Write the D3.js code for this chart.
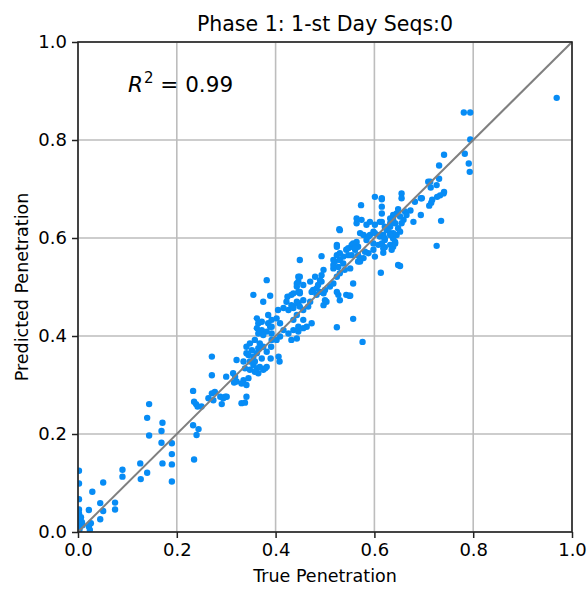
<!DOCTYPE html>
<html><head><meta charset="utf-8">
<script src="https://cdn.jsdelivr.net/npm/d3@7"></script>
<style>
body{margin:0;background:#fff}
svg{display:block}
text{font-family:"DejaVu Sans",sans-serif;fill:#000}
</style>
</head><body>
<svg id="chart" width="587" height="590"></svg>
<script>
const titleText = "Phase 1: 1-st Day Seqs:0";
const xLabelText = "True Penetration";
const yLabelText = "Predicted Penetration";
const r2Text = "0.99";
const xTicks = [0, 0.2, 0.4, 0.6, 0.8, 1.0];
const yTicks = [0, 0.2, 0.4, 0.6, 0.8, 1.0];
const identityLine = [[0, 0], [1, 1]];

// [true penetration, predicted penetration]
const samples = [
 [0.002,0.125],[0.002,0.099],[0.002,0.067],[0.002,0.046],[0.002,0.038],[0.002,0.031],[0.004,0.024],[0.002,0.018],[0.002,0.011],[0.005,0.024],[0.009,0.014],[0.003,0.005],[0.006,0.030],[0.008,0.020],
 [0.022,0.011],[0.024,0.004],[0.022,0.045],[0.029,0.082],[0.045,0.026],[0.051,0.043],[0.045,0.059],[0.051,0.101],[0.075,0.060],[0.075,0.046],[0.090,0.127],[0.090,0.113],[0.126,0.140],[0.127,0.108],[0.140,0.121],[0.026,0.018],
 [0.144,0.261],[0.140,0.233],[0.171,0.223],[0.169,0.206],[0.144,0.197],[0.169,0.182],[0.190,0.181],[0.190,0.159],[0.190,0.138],[0.171,0.140],[0.190,0.103],
 [0.233,0.288],[0.235,0.266],[0.239,0.261],[0.242,0.256],[0.233,0.218],[0.244,0.210],[0.240,0.198],[0.235,0.148],[0.250,0.256],
 [0.264,0.273],[0.271,0.283],[0.277,0.286],[0.274,0.269],[0.294,0.273],[0.301,0.276],[0.291,0.261],[0.271,0.358],[0.271,0.320],[0.300,0.317],[0.288,0.276],[0.298,0.276],
 [0.316,0.305],[0.335,0.310],[0.341,0.300],[0.331,0.263],[0.338,0.264],[0.314,0.324],[0.321,0.307],[0.318,0.317],[0.321,0.351],[0.331,0.303],[0.341,0.276],[0.335,0.348],[0.348,0.348],[0.341,0.365],[0.348,0.331],[0.338,0.334],[0.341,0.378],[0.345,0.361],[0.348,0.385],[0.345,0.314],
 [0.355,0.484],[0.389,0.482],[0.375,0.470],[0.382,0.514],[0.385,0.443],[0.392,0.433],[0.385,0.426],[0.389,0.419],[0.362,0.436],[0.365,0.426],[0.372,0.429],[0.362,0.416],[0.372,0.412],[0.382,0.409],[0.392,0.405],[0.375,0.402],[0.365,0.405],[0.358,0.392],[0.368,0.385],[0.375,0.378],[0.365,0.375],[0.352,0.371],[0.382,0.368],[0.362,0.365],[0.355,0.358],[0.372,0.354],[0.391,0.378],[0.390,0.354],[0.355,0.341],[0.362,0.334],[0.368,0.337],[0.382,0.337],[0.375,0.331],[0.365,0.324],[0.392,0.392],[0.358,0.348],[0.358,0.327],[0.379,0.334],[0.392,0.419],
 [0.424,0.480],[0.432,0.484],[0.449,0.487],[0.446,0.467],[0.436,0.460],[0.426,0.453],[0.416,0.457],[0.405,0.453],[0.402,0.436],[0.409,0.426],[0.416,0.412],[0.426,0.405],[0.436,0.412],[0.446,0.409],[0.443,0.395],[0.432,0.392],[0.402,0.392],[0.409,0.399],[0.406,0.358],[0.408,0.348],[0.422,0.470],[0.432,0.463],[0.446,0.521],[0.443,0.507],[0.446,0.490],[0.443,0.501],[0.446,0.511],[0.449,0.555],[0.436,0.487],[0.436,0.457],[0.443,0.470],[0.443,0.443],[0.436,0.433],[0.446,0.419],[0.449,0.460],
 [0.456,0.473],[0.456,0.504],[0.449,0.490],[0.449,0.521],[0.456,0.453],[0.456,0.433],[0.463,0.419],[0.473,0.426],[0.466,0.460],[0.470,0.470],[0.476,0.494],[0.483,0.484],[0.490,0.490],[0.470,0.511],[0.480,0.521],[0.493,0.511],[0.483,0.497],[0.497,0.487],[0.473,0.490],[0.493,0.563],[0.497,0.535],[0.493,0.524],[0.490,0.514],[0.486,0.504],[0.497,0.463],[0.456,0.416],
 [0.500,0.494],[0.510,0.501],[0.517,0.507],[0.500,0.473],[0.503,0.470],[0.527,0.484],[0.530,0.473],[0.524,0.490],[0.543,0.484],[0.549,0.482],[0.551,0.538],[0.524,0.565],[0.530,0.555],[0.520,0.552],[0.537,0.548],[0.527,0.541],[0.540,0.535],[0.517,0.538],[0.524,0.521],[0.530,0.528],[0.517,0.545],[0.517,0.555],[0.529,0.618],[0.524,0.586],[0.524,0.582],[0.530,0.569],[0.537,0.562],[0.543,0.576],[0.547,0.565],[0.547,0.579],[0.554,0.582],[0.554,0.586],[0.554,0.565],[0.524,0.418],[0.530,0.616],
 [0.557,0.507],[0.557,0.435],[0.576,0.388],[0.551,0.482],[0.557,0.589],[0.564,0.592],[0.561,0.576],[0.567,0.582],[0.561,0.579],[0.567,0.565],[0.571,0.552],[0.578,0.559],[0.588,0.569],[0.598,0.576],[0.601,0.562],[0.581,0.572],[0.571,0.559],[0.567,0.552],[0.564,0.630],[0.574,0.637],[0.584,0.627],[0.591,0.633],[0.571,0.610],[0.578,0.606],[0.591,0.606],[0.584,0.596],[0.598,0.589],[0.573,0.667],[0.564,0.640],[0.588,0.603],[0.598,0.613],
 [0.601,0.627],[0.611,0.633],[0.621,0.623],[0.632,0.630],[0.638,0.637],[0.601,0.610],[0.611,0.603],[0.618,0.606],[0.632,0.610],[0.638,0.599],[0.645,0.606],[0.608,0.586],[0.618,0.579],[0.632,0.586],[0.638,0.582],[0.613,0.529],[0.648,0.545],[0.601,0.684],[0.615,0.681],[0.615,0.664],[0.615,0.679],[0.615,0.650],[0.615,0.633],[0.648,0.659],[0.645,0.650],[0.638,0.647],[0.632,0.640],[0.642,0.630],[0.632,0.623],[0.625,0.616],[0.648,0.620],[0.638,0.610],[0.632,0.606],[0.618,0.603],[0.621,0.596],[0.615,0.589],[0.642,0.592],[0.621,0.581],[0.618,0.570],[0.611,0.606],[0.621,0.599],[0.642,0.589],[0.635,0.576],
 [0.655,0.691],[0.655,0.681],[0.682,0.674],[0.696,0.681],[0.662,0.654],[0.665,0.647],[0.673,0.656],[0.652,0.644],[0.659,0.637],[0.655,0.630],[0.679,0.633],[0.694,0.647],[0.652,0.613],[0.652,0.543],[0.694,0.681],
 [0.709,0.715],[0.714,0.703],[0.741,0.694],[0.733,0.687],[0.727,0.684],[0.715,0.672],[0.711,0.666],[0.735,0.635],[0.726,0.584],[0.741,0.770],[0.731,0.748],[0.731,0.721],[0.713,0.715],[0.726,0.708],[0.740,0.691],[0.717,0.678],
 [0.783,0.772],[0.791,0.752],[0.793,0.735],[0.794,0.801],[0.781,0.856],[0.794,0.856],[0.969,0.886]
];

const svg = d3.select("#chart");
const x = d3.scaleLinear().domain([0, 1]).range([78, 572]);
const y = d3.scaleLinear().domain([0, 1]).range([532, 42]);
const fmt = d3.format(".1f");

svg.append("defs").append("clipPath").attr("id", "plotClip")
  .append("rect").attr("x", x(0)).attr("y", y(1))
  .attr("width", x(1) - x(0)).attr("height", y(0) - y(1));

// grid
const grid = svg.append("g");
grid.selectAll("line.gx").data(xTicks).join("line")
  .attr("x1", d => x(d)).attr("x2", d => x(d))
  .attr("y1", y(0)).attr("y2", y(1))
  .attr("stroke", "#bdbdbd").attr("stroke-width", 1.6);
grid.selectAll("line.gy").data(yTicks).join("line")
  .attr("y1", d => y(d)).attr("y2", d => y(d))
  .attr("x1", x(0)).attr("x2", x(1))
  .attr("stroke", "#bdbdbd").attr("stroke-width", 1.6);

// points
svg.append("g").attr("clip-path", "url(#plotClip)")
  .selectAll("circle").data(samples).join("circle")
  .attr("cx", d => x(d[0])).attr("cy", d => y(d[1]))
  .attr("r", 3.2).attr("fill", "#078cf5");

// identity line
svg.append("path").datum(identityLine)
  .attr("d", d3.line().x(d => x(d[0])).y(d => y(d[1])))
  .attr("stroke", "#808080").attr("stroke-width", 2).attr("fill", "none");

// axes
const xAxis = svg.append("g").attr("transform", `translate(0,${y(0)})`)
  .call(d3.axisBottom(x).tickValues(xTicks).tickFormat(fmt).tickSize(6).tickPadding(5));
const yAxis = svg.append("g").attr("transform", `translate(${x(0)},0)`)
  .call(d3.axisLeft(y).tickValues(yTicks).tickFormat(fmt).tickSize(6).tickPadding(5));
[xAxis, yAxis].forEach(a => {
  a.select(".domain").remove();
  a.selectAll(".tick line").attr("stroke", "#222").attr("stroke-width", 1.5);
  a.selectAll(".tick text").attr("font-size", 18).attr("font-family", "DejaVu Sans").attr("fill", "#111");
});

// frame
svg.append("rect").attr("x", x(0)).attr("y", y(1))
  .attr("width", x(1) - x(0)).attr("height", y(0) - y(1))
  .attr("fill", "none").attr("stroke", "#222").attr("stroke-width", 1.6);

// title
svg.append("text").attr("x", (x(0) + x(1)) / 2).attr("y", 31)
  .attr("text-anchor", "middle").attr("font-size", 20.5).text(titleText);

// axis labels
svg.append("text").attr("x", (x(0) + x(1)) / 2).attr("y", 582)
  .attr("text-anchor", "middle").attr("font-size", 17.5).text(xLabelText);
svg.append("text")
  .attr("transform", `translate(28,${(y(0) + y(1)) / 2}) rotate(-90)`)
  .attr("text-anchor", "middle").attr("font-size", 17.5).text(yLabelText);

// R^2 annotation
const r2 = svg.append("text").attr("x", 128).attr("y", 92).attr("font-size", 21.5);
r2.append("tspan").attr("font-style", "italic").text("R");
r2.append("tspan").attr("font-size", 15).attr("dy", -9).attr("dx", 1).text("2");
r2.append("tspan").attr("dy", 9).text(" = " + r2Text);
</script>
</body></html>
